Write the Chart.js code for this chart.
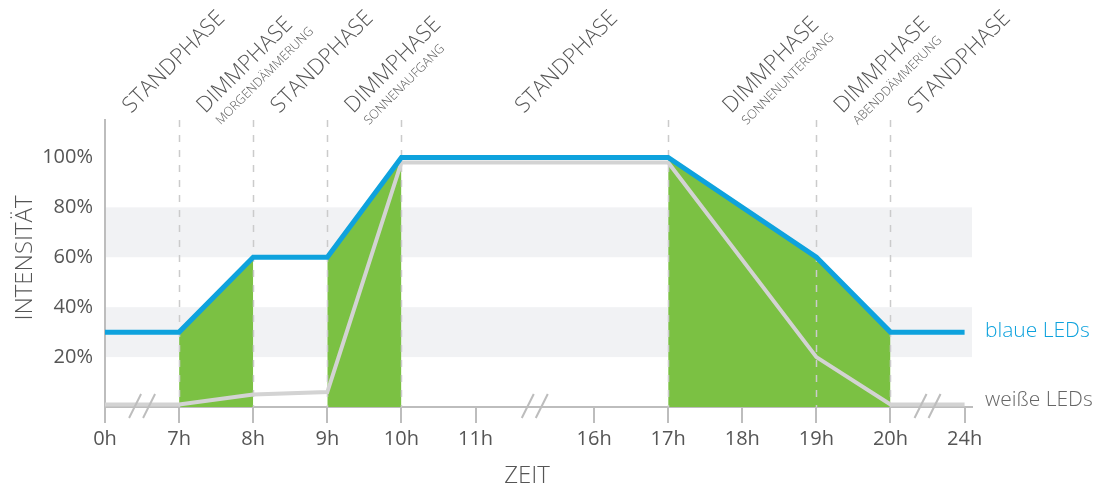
<!DOCTYPE html>
<html>
<head>
<meta charset="utf-8">
<script src="https://cdn.jsdelivr.net/npm/chart.js@4.4.1/dist/chart.umd.min.js"></script>
<style>
  html, body { margin: 0; background: #fff; }
  #wrap { width: 1103px; height: 488px; }
</style>
</head>
<body>
<div id="wrap"><canvas id="chart"></canvas></div>
<script>
// hours of the day and LED intensity in percent
const hours = [0, 7, 8, 9, 10, 17, 19, 20, 24];
const blueLeds = [30, 30, 60, 60, 100, 100, 60, 30, 30];
const whiteLeds = [1, 1, 5, 6, 98, 98, 20, 1, 1];

const hourTicks = [0, 7, 8, 9, 10, 11, 16, 17, 18, 19, 20, 24];
const percentTicks = [20, 40, 60, 80, 100];

const phaseStart = [0, 7, 8, 9, 10, 17, 19, 20];
const phaseEnd = [7, 8, 9, 10, 17, 19, 20, 24];
const phaseTitle = ['STANDPHASE', 'DIMMPHASE', 'STANDPHASE', 'DIMMPHASE', 'STANDPHASE', 'DIMMPHASE', 'DIMMPHASE', 'STANDPHASE'];
const phaseSub = ['', 'MORGENDÄMMERUNG', '', 'SONNENAUFGANG', '', 'SONNENUNTERGANG', 'ABENDDÄMMERUNG', ''];

const bands = [[20, 40], [60, 80]];
const axisBreaks = [[0, 7], [11, 16], [20, 24]];

const BLUE = '#0ea2dd';
const WHITE_LINE = '#d3d3d3';
const GREEN = '#7bc143';
const AXIS = '#bdbdbd';
const TEXT = '#555';
const FONT = '"Open Sans", "Noto Sans", sans-serif';

// broken time axis: each tick gets a slot, the gap 11h..16h is a bit wider
const tickSlots = [0, 1, 2, 3, 4, 5, 6.6, 7.6, 8.6, 9.6, 10.6, 11.6];
function slot(h) {
  for (let i = 0; i < hourTicks.length - 1; i++) {
    const a = hourTicks[i], b = hourTicks[i + 1];
    if (h >= a && h <= b) {
      return tickSlots[i] + (h - a) / (b - a) * (tickSlots[i + 1] - tickSlots[i]);
    }
  }
  return tickSlots[tickSlots.length - 1];
}

function isDimm(a, b) {
  for (let i = 0; i < phaseTitle.length; i++) {
    if (phaseTitle[i] === 'DIMMPHASE' && a >= phaseStart[i] && b <= phaseEnd[i]) return true;
  }
  return false;
}

const toPoints = vals => hours.map((h, i) => ({ x: slot(h), y: vals[i] }));

const decor = {
  id: 'decor',
  beforeDatasetsDraw(chart) {
    const { ctx, chartArea: a, scales: { y } } = chart;
    ctx.save();
    ctx.fillStyle = '#f1f2f4';
    bands.forEach(([lo, hi]) => {
      const top = y.getPixelForValue(hi), bot = y.getPixelForValue(lo);
      ctx.fillRect(a.left + 1, top, a.right - a.left - 1, bot - top);
    });
    ctx.restore();
  },
  afterDatasetDraw(chart, args) {
    if (args.index !== 2) return;
    const { ctx, chartArea: a, scales: { x } } = chart;
    ctx.save();
    ctx.strokeStyle = '#cbcbcb';
    ctx.lineWidth = 1.5;
    ctx.setLineDash([7, 8]);
    phaseStart.slice(1).forEach(h => {
      const px = Math.round(x.getPixelForValue(slot(h))) + 0.5;
      ctx.beginPath();
      ctx.moveTo(px, a.top);
      ctx.lineTo(px, a.bottom);
      ctx.stroke();
    });
    ctx.restore();
  },
  afterDatasetsDraw(chart) {
    const { ctx, chartArea: a, scales: { x, y } } = chart;
    ctx.save();
    // break marks on the time axis
    ctx.strokeStyle = AXIS;
    ctx.lineWidth = 2;
    axisBreaks.forEach(([h0, h1]) => {
      const cx = x.getPixelForValue((slot(h0) + slot(h1)) / 2);
      [-7, 7].forEach(off => {
        ctx.beginPath();
        ctx.moveTo(cx + off - 6, a.bottom + 11);
        ctx.lineTo(cx + off + 6, a.bottom - 13);
        ctx.stroke();
      });
    });

    // phase labels above the plot
    ctx.fillStyle = TEXT;
    ctx.textBaseline = 'alphabetic';
    ctx.textAlign = 'left';
    for (let i = 0; i < phaseTitle.length; i++) {
      const cx = (x.getPixelForValue(slot(phaseStart[i])) + x.getPixelForValue(slot(phaseEnd[i]))) / 2;
      ctx.save();
      ctx.translate(cx - 11, 114);
      ctx.rotate(-45 * Math.PI / 180);
      ctx.font = '300 22px ' + FONT;
      ctx.fillText(phaseTitle[i], 0, 0);
      if (phaseSub[i]) {
        ctx.font = '300 12.5px ' + FONT;
        ctx.fillText(phaseSub[i], 3, 19);
      }
      ctx.restore();
    }

    // axis titles
    ctx.font = '300 24px ' + FONT;
    ctx.textAlign = 'center';
    ctx.textBaseline = 'middle';
    ctx.fillText('ZEIT', 527, 476);
    ctx.save();
    ctx.translate(25, 258);
    ctx.rotate(-Math.PI / 2);
    ctx.fillText('INTENSITÄT', 0, 0);
    ctx.restore();

    // series labels on the right
    ctx.textAlign = 'left';
    ctx.font = '300 21px ' + FONT;
    ctx.fillStyle = BLUE;
    ctx.fillText('blaue LEDs', 985, y.getPixelForValue(blueLeds[blueLeds.length - 1]) - 1);
    ctx.fillStyle = '#666';
    ctx.fillText('weiße LEDs', 985, y.getPixelForValue(whiteLeds[whiteLeds.length - 1]) - 4);
    ctx.restore();
  }
};

new Chart(document.getElementById('chart'), {
  type: 'line',
  data: {
    datasets: [
      {
        label: 'blaue LEDs',
        data: toPoints(blueLeds),
        borderColor: BLUE,
        borderWidth: 5,
        borderJoinStyle: 'miter',
        pointRadius: 0,
        fill: false,
      },
      {
        label: 'weiße LEDs',
        data: toPoints(whiteLeds),
        borderColor: WHITE_LINE,
        borderWidth: 4,
        borderJoinStyle: 'miter',
        pointRadius: 0,
        fill: false,
      },
      {
        label: 'dimm',
        data: toPoints(blueLeds),
        borderWidth: 0,
        borderColor: 'rgba(0,0,0,0)',
        pointRadius: 0,
        fill: 'origin',
        backgroundColor: GREEN,
        segment: {
          backgroundColor: ctx => isDimm(hours[ctx.p0DataIndex], hours[ctx.p1DataIndex]) ? GREEN : 'rgba(0,0,0,0)',
        },
      },
    ],
  },
  options: {
    responsive: true,
    maintainAspectRatio: false,
    animation: false,
    layout: { padding: { top: 120, right: 131, left: 0, bottom: 0 } },
    plugins: { legend: { display: false }, tooltip: { enabled: false } },
    scales: {
      x: {
        type: 'linear',
        min: 0,
        max: 11.7,
        afterBuildTicks: scale => { scale.ticks = hourTicks.map(h => ({ value: slot(h) })); },
        afterFit: scale => { scale.height = 81; },
        grid: { drawOnChartArea: false, drawTicks: true, tickLength: 16, color: AXIS, lineWidth: 2 },
        border: { color: AXIS, width: 2 },
        ticks: {
          autoSkip: false,
          maxRotation: 0,
          padding: 4,
          color: TEXT,
          font: { family: FONT, size: 20 },
          callback: (v, i) => hourTicks[i] + 'h',
        },
      },
      y: {
        min: 0,
        max: 115,
        afterBuildTicks: scale => { scale.ticks = percentTicks.map(v => ({ value: v })); },
        afterFit: scale => { scale.width = 105; },
        grid: { display: false, drawTicks: false },
        border: { color: AXIS, width: 2 },
        ticks: {
          padding: 12,
          color: TEXT,
          font: { family: FONT, size: 20 },
          callback: v => v + '%',
        },
      },
    },
  },
  plugins: [decor],
});
</script>
</body>
</html>
